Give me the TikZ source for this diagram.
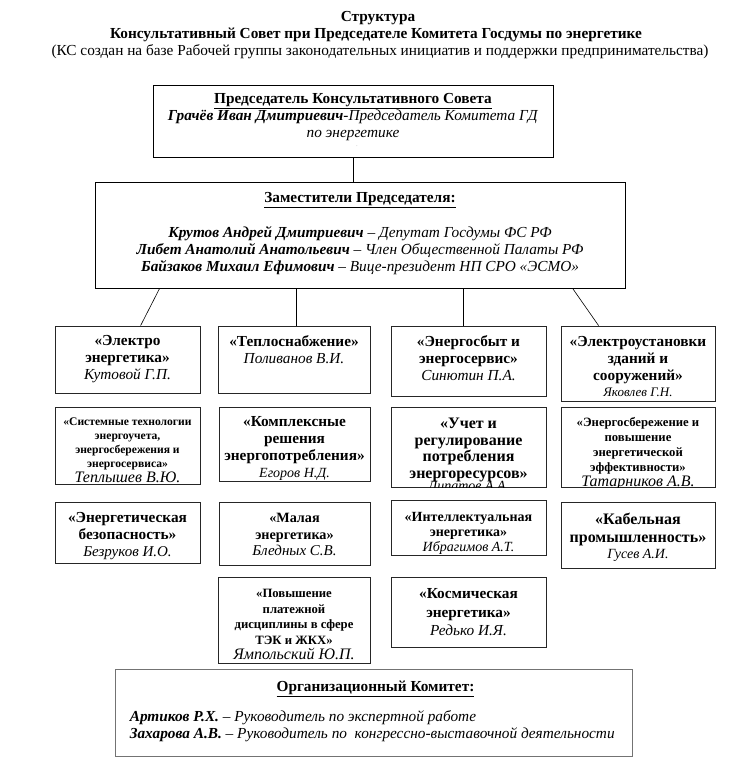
\documentclass[tikz,border=0pt]{standalone}
\usepackage{fontspec}
\setmainfont{Liberation Serif}
\usetikzlibrary{fit,calc,shadows}
\newcommand\fs[2]{\fontsize{#1}{#2}\selectfont}
\newcommand\cliptext[5]{\begin{scope}\clip (#2.north west) rectangle (#2.south east);\node[lbl, font=#4] (#1) at ($(#2.north)+(0,#3)$) {#5};\end{scope}}
\begin{document}
\begin{tikzpicture}[x=1pt,y=-1pt,
 frame/.style={draw=black, line width=0.8pt, fill=white, inner sep=0pt},
 sbox/.style={frame, draw=black!85, drop shadow={shadow xshift=1.3pt,shadow yshift=-1.3pt,fill=black!40,opacity=1}},
 lbl/.style={anchor=north, align=center, inner sep=0pt},
 conn/.style={draw=black, line width=0.6pt},
 ttl/.style={inner sep=0pt, font=\fs{15.3}{17}}]
\useasboundingbox[fill=white] (0,0) rectangle (742,772);

% titles
\node[ttl] (title1) at (378,18) {\bfseries Структура};
\node[ttl] (title2) at (376,35) {\bfseries Консультативный Совет при Председателе Комитета Госдумы по энергетике};
\node[ttl] (title3) at (380,52) {(КС создан на базе Рабочей группы законодательных инициатив и поддержки предпринимательства)};

% chairman
\node[frame, fit={(153,85) (553,157)}] (chair) {};
\node[lbl, font=\fs{15.3}{17}] (chairtxt) at ($(chair.north)+(0,9)$) {\textbf{\underline{Председатель Консультативного Совета}}\\ \textbf{\textit{Грачёв Иван Дмитриевич}}\textit{-Председатель Комитета ГД}\\ \textit{по энергетике}};
\node[inner sep=0pt, font=\fs{5}{6}, text=black!50] (dot) at (357,146) {.};

% deputies
\node[frame, fit={(95,182) (625,288)}] (dep) {};
\node[lbl, font=\fs{15.3}{17}] (deptxt) at ($(dep.north)+(0,11)$) {\textbf{\underline{Заместители Председателя:}}\\[18pt]
\textbf{\textit{Крутов Андрей Дмитриевич}} \textit{– Депутат Госдумы ФС РФ}\\
\textbf{\textit{Либет Анатолий Анатольевич}} \textit{– Член Общественной Палаты РФ}\\
\textbf{\textit{Байзаков Михаил Ефимович}} \textit{– Вице-президент НП СРО «ЭСМО»}};

% row 1
\node[sbox, fit={(55,326) (200,393)}] (b1) {};
\node[sbox, fit={(218,326) (370,393)}] (b2) {};
\node[sbox, fit={(391,326) (546,396)}] (b3) {};
\node[sbox, fit={(561,326) (715,401)}] (b4) {};
\cliptext{b1t}{b1}{10}{\fs{15.3}{17}}{\textbf{«Электро}\\ \textbf{энергетика»}\\ \textit{Кутовой Г.П.}}
\cliptext{b2t}{b2}{10}{\fs{15.3}{17}}{\textbf{«Теплоснабжение»}\\ \textit{Поливанов В.И.}}
\cliptext{b3t}{b3}{10}{\fs{15.3}{17}}{\textbf{«Энергосбыт и}\\ \textbf{энергосервис»}\\ \textit{Синютин П.А.}}
\cliptext{b4t}{b4}{10.5}{\fs{15.3}{17}}{\textbf{«Электроустановки}\\ \textbf{зданий и}\\ \textbf{сооружений»}\\[-1pt] {\fs{13}{14}\textit{Яковлев Г.Н.}}}

% row 2
\node[sbox, fit={(55,407) (200,484)}] (c1) {};
\node[sbox, fit={(219,407) (370,481)}] (c2) {};
\node[sbox, fit={(391,407) (546,487)}] (c3) {};
\node[sbox, fit={(561,407) (715,487)}] (c4) {};
\cliptext{c1t}{c1}{11.5}{\fs{11.6}{14}}{\textbf{«Системные технологии}\\ \textbf{энергоучета,}\\ \textbf{энергосбережения и}\\ \textbf{энергосервиса»}\\[1pt] {\fs{16}{16}\textit{Теплышев В.Ю.}}}
\cliptext{c2t}{c2}{10}{\fs{15.3}{17}}{\textbf{«Комплексные}\\ \textbf{решения}\\ \textbf{энергопотребления»}\\ {\fs{14}{15}\textit{Егоров Н.Д.}}}
\cliptext{c3t}{c3}{11.5}{\fs{16}{16.5}}{\textbf{«Учет и}\\ \textbf{регулирование}\\ \textbf{потребления}\\ \textbf{энергоресурсов»}\\[-4pt] {\fs{14}{14}\textit{Липатов А.А.}}}
\cliptext{c4t}{c4}{10.5}{\fs{12.7}{15}}{\textbf{«Энергосбережение и}\\ \textbf{повышение}\\ \textbf{энергетической}\\ \textbf{эффективности»}\\ {\fs{16}{16}\textit{Татарников А.В.}}}

% row 3
\node[sbox, fit={(55,502) (200,563)}] (d1) {};
\node[sbox, fit={(219,502) (370,565)}] (d2) {};
\node[sbox, fit={(391,500) (546,555)}] (d3) {};
\node[sbox, fit={(561,502) (715,568)}] (d4) {};
\cliptext{d1t}{d1}{11}{\fs{15.3}{17}}{\textbf{«Энергетическая}\\ \textbf{безопасность»}\\ {\fs{15}{17}\textit{Безруков И.О.}}}
\cliptext{d2t}{d2}{11.5}{\fs{14.2}{17}}{\textbf{«Малая}\\ \textbf{энергетика»}\\[-1pt] {\fs{15}{16}\textit{Бледных С.В.}}}
\cliptext{d3t}{d3}{12.5}{\fs{14}{15}}{\textbf{«Интеллектуальная}\\ \textbf{энергетика»}\\ \textit{Ибрагимов А.Т.}}
\cliptext{d4t}{d4}{11.5}{\fs{16}{18}}{\textbf{«Кабельная}\\ \textbf{промышленность»}\\[-2pt] {\fs{14}{15}\textit{Гусев А.И.}}}

% row 4
\node[sbox, fit={(218,577) (370,663)}] (e2) {};
\node[sbox, fit={(391,577) (546,647)}] (e3) {};
\cliptext{e2t}{e2}{12.5}{\fs{12.7}{15.5}}{\textbf{«Повышение}\\ \textbf{платежной}\\ \textbf{дисциплины в сфере}\\ \textbf{ТЭК и ЖКХ»}\\ {\fs{16}{16}\textit{Ямпольский Ю.П.}}}
\cliptext{e3t}{e3}{12}{\fs{15.3}{18.5}}{\textbf{«Космическая}\\ \textbf{энергетика»}\\ \textit{Редько И.Я.}}

% organising committee
\node[frame, draw=black!55, fit={(115,669) (632,756)}] (org) {};
\node[lbl, font=\fs{15.3}{17}] (orghead) at ($(org.north)+(2,12)$) {\textbf{\underline{Организационный Комитет:}}};
\node[lbl, anchor=north west, align=left, font=\fs{15.3}{17}] (orgtxt) at ($(org.north west)+(15,42)$) {\textbf{\textit{Артиков Р.Х.}} \textit{– Руководитель по экспертной работе}\\
\textbf{\textit{Захарова А.В.}} \textit{– Руководитель по\ \ конгрессно-выставочной деятельности}};

% connectors
\draw[conn] (chair.south) -- (chair.south |- dep.north);
\draw[conn] ($(dep.south west)+(65,0)$) -- ($(b1.north west)+(86,0)$);
\draw[conn] ($(dep.south west)+(202,0)$) -- ($(b2.north west)+(79,0)$);
\draw[conn] ($(dep.south west)+(369,0)$) -- ($(b3.north west)+(73,0)$);
\draw[conn] ($(dep.south west)+(478,0)$) -- ($(b4.north west)+(38,0)$);
\end{tikzpicture}
\end{document}
